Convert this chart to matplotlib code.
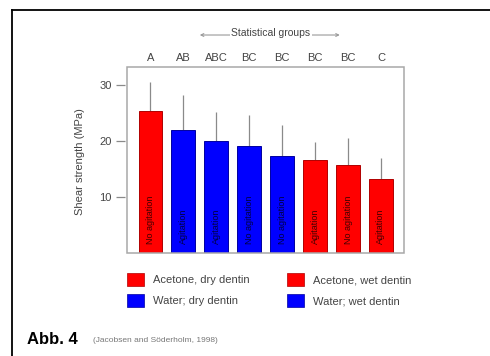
import matplotlib
matplotlib.use('Agg')
import matplotlib.pyplot as plt
import matplotlib.transforms as mtransforms
from matplotlib.patches import Patch, Rectangle
from matplotlib.lines import Line2D
import numpy as np

plt.rcParams['font.family'] = ['Liberation Sans', 'DejaVu Sans']

# shear strength per group (MPa)
means = [25.4, 22.0, 20.0, 19.1, 17.3, 16.7, 15.8, 13.2]
sds = [5.3, 6.3, 5.2, 5.6, 5.7, 3.2, 4.8, 3.8]
solvent = ['Acetone', 'Water', 'Water', 'Water', 'Water', 'Acetone', 'Acetone', 'Acetone']
bar_labels = ['No agitation', 'Agitation', 'Agitation', 'No agitation',
              'No agitation', 'Agitation', 'No agitation', 'Agitation']
stat_groups = ['A', 'AB', 'ABC', 'BC', 'BC', 'BC', 'BC', 'C']
legend_labels = ['Acetone, dry dentin', 'Water; dry dentin',
                 'Acetone, wet dentin', 'Water; wet dentin']
legend_solvent = ['Acetone', 'Water', 'Acetone', 'Water']
y_ticks = [10, 20, 30]

COLORS = {'Acetone': '#ff0000', 'Water': '#0000ff'}
EDGES = {'Acetone': '#b00000', 'Water': '#0000a0'}
TEXTC = {'Acetone': '#400000', 'Water': '#000040'}
W, H = 490, 356

fig = plt.figure(figsize=(W / 100, H / 100), dpi=100)
ax = fig.add_axes([127 / W, 1 - 253 / H, 277 / W, 186 / H])

x = np.arange(len(means))
ax.bar(x, means, width=0.72, color=[COLORS[s] for s in solvent],
       edgecolor=[EDGES[s] for s in solvent], linewidth=0.7, zorder=2)
ax.errorbar(x, means, yerr=[np.zeros(len(sds)), sds], fmt='none',
            ecolor='#8a8a8a', elinewidth=0.9, capsize=0, zorder=1)

for xi, lab, s in zip(x, bar_labels, solvent):
    ax.text(xi, 1.6, lab, rotation=90, ha='center', va='bottom',
            fontsize=6.5, color=TEXTC[s])

ax.set_xlim(-0.71, 7.7)
ax.set_ylim(0, 33.3)
ax.set_xticks([])
ax.set_yticks(y_ticks)
ax.tick_params(axis='y', direction='out', length=6.5, width=0.9,
               color='#8a8a8a', labelsize=8, labelcolor='#444444', pad=3)

for sp in ax.spines.values():
    sp.set_visible(False)
ax.spines['left'].set_position(('outward', 1.5))
ax.add_patch(Rectangle((0, 0), 1, 1, transform=ax.transAxes, fill=False,
                       edgecolor='#a8a8a8', linewidth=1.1, clip_on=False, zorder=3))

ax.set_ylabel('Shear strength (MPa)', fontsize=8, color='#444444')
ax.yaxis.set_label_coords(-0.15, 0.49)

# statistical groups above the bars
trans = mtransforms.blended_transform_factory(ax.transData, ax.transAxes)
for xi, g in zip(x, stat_groups):
    ax.text(xi, 1.048, g, transform=trans, ha='center', va='center',
            fontsize=8, color='#444444')
ax.annotate('', xy=(1.5, 1.172), xytext=(5.75, 1.172), xycoords=trans,
            arrowprops=dict(arrowstyle='<->', color='#999999', lw=0.8,
                            mutation_scale=5, shrinkA=0, shrinkB=0))
ax.text(3.65, 1.183, 'Statistical groups', transform=trans, ha='center',
        va='center', fontsize=7.5, color='#444444',
        bbox=dict(facecolor='white', edgecolor='none', pad=1.0))

handles = [Patch(facecolor=COLORS[s], edgecolor=EDGES[s], linewidth=0.5)
           for s in legend_solvent]
fs = 8
px = fs * 100 / 72
fig.legend(handles, legend_labels, ncol=2, loc='upper left',
           bbox_to_anchor=(127 / W, 1 - 273 / H), frameon=False,
           fontsize=fs, borderpad=0, borderaxespad=0,
           handlelength=17 / px, handleheight=16 / px,
           handletextpad=9 / px, columnspacing=3.35, labelspacing=0.72,
           labelcolor='#444444')

# page frame and caption
fig.add_artist(Line2D([12 / W, 1], [1 - 10 / H, 1 - 10 / H], color='black', lw=1.3))
fig.add_artist(Line2D([12 / W, 12 / W], [1 - 10 / H, 0], color='black', lw=1.3))
fig.text(27 / W, 1 - 340 / H, 'Abb. 4', fontsize=12, fontweight='bold',
         family=['Liberation Sans Narrow', 'Liberation Sans', 'DejaVu Sans'],
         ha='left', va='center')
fig.text(93 / W, 1 - 340 / H, '(Jacobsen and Söderholm, 1998)', fontsize=6,
         color='#777777', ha='left', va='center')

fig.savefig('out.png', dpi=100)
